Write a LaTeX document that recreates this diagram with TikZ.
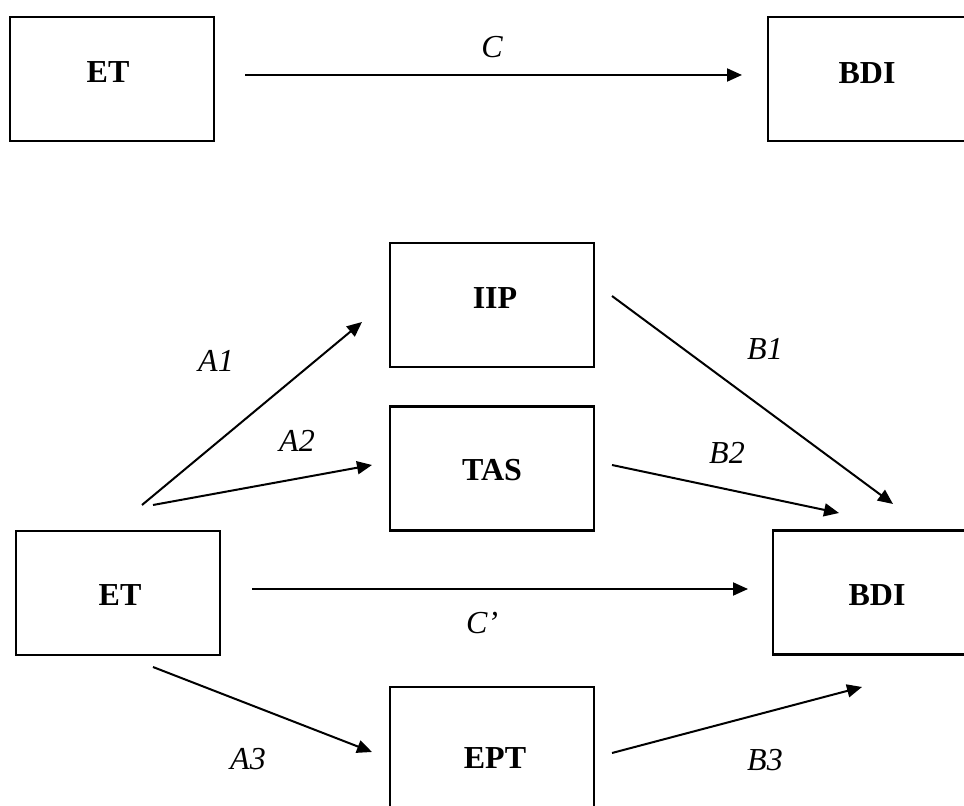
\documentclass[tikz,border=0pt]{standalone}
\usepackage{fontspec}
\setmainfont{Liberation Serif}
\usetikzlibrary{arrows.meta}
\begin{document}
\begin{tikzpicture}[x=0.5pt,y=-0.5pt,
  box/.style={draw, line width=1.3pt, minimum width=102pt, minimum height=62pt, inner sep=0pt},
  lbl/.style={font=\fontsize{16}{19}\selectfont\bfseries, inner sep=0pt},
  elbl/.style={font=\fontsize{16}{19}\selectfont\itshape, inner sep=0pt},
  conn/.style={line width=1pt, -{Triangle[length=7.5pt,width=6.5pt]}}]
\useasboundingbox (0,0) rectangle (964,806);
% boxes
\node[box] (et1) at (112,79) {};
\node[box] (bdi1) at (870,79) {};
\node[box] (iip) at (492,305) {};
\node[box] (tas) at (492,468.5) {};
\node[box] (et2) at (118,593) {};
\node[box] (bdi2) at (875,592.5) {};
\node[box] (ept) at (492,749) {};
% box texts
\node[lbl] (et1t) at (108,72) {ET};
\node[lbl] (bdi1t) at (867,73) {BDI};
\node[lbl] (iipt) at (495,298) {IIP};
\node[lbl] (tast) at (492,470) {TAS};
\node[lbl] (et2t) at (120,595) {ET};
\node[lbl] (bdi2t) at (877,595) {BDI};
\node[lbl] (eptt) at (495,758) {EPT};
% connector ends
\coordinate (c1s) at (245,75);  \coordinate (c1e) at (742,75);
\coordinate (a1s) at (142,505); \coordinate (a1e) at (362,322);
\coordinate (a2s) at (153,505); \coordinate (a2e) at (372,465);
\coordinate (a3s) at (153,667); \coordinate (a3e) at (372,752);
\coordinate (cps) at (252,589); \coordinate (cpe) at (748,589);
\coordinate (b1s) at (612,296); \coordinate (b1e) at (893,504);
\coordinate (b2s) at (612,465); \coordinate (b2e) at (839,513);
\coordinate (b3s) at (612,753); \coordinate (b3e) at (862,687);
% connectors
\draw[conn] (c1s) -- (c1e);
\draw[conn] (a1s) -- (a1e);
\draw[conn] (a2s) -- (a2e);
\draw[conn] (a3s) -- (a3e);
\draw[conn] (cps) -- (cpe);
\draw[conn] (b1s) -- (b1e);
\draw[conn] (b2s) -- (b2e);
\draw[conn] (b3s) -- (b3e);
% path labels
\node[elbl] (lc) at (492,47) {C};
\node[elbl] (la1) at (216,361) {A1};
\node[elbl] (la2) at (297,441) {A2};
\node[elbl] (la3) at (248,759) {A3};
\node[elbl] (lb1) at (765,349) {B1};
\node[elbl] (lb2) at (727,453) {B2};
\node[elbl] (lb3) at (765,760) {B3};
\node[elbl] (lcp) at (482,623) {C’};
\end{tikzpicture}
\end{document}
